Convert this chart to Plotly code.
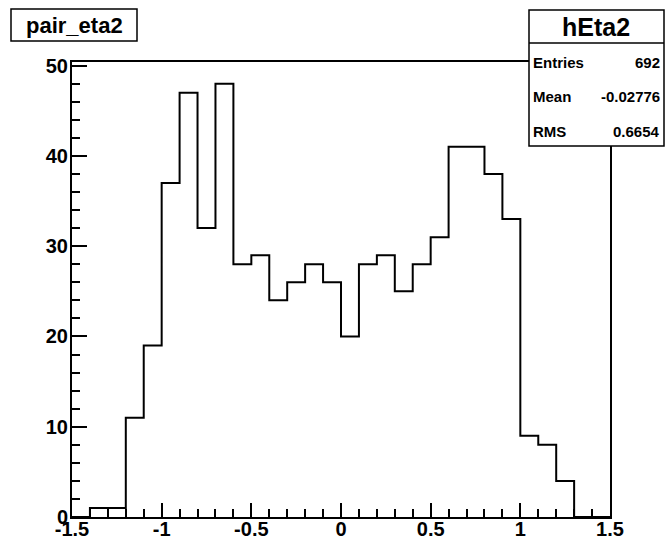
import plotly.graph_objects as go

# ---- data ----
bin_edges = [round(-1.5 + 0.1 * i, 1) for i in range(31)]
counts = [0, 1, 1, 11, 19, 37, 47, 32, 48, 28,
          29, 24, 26, 28, 26, 20, 28, 29, 25, 28,
          31, 41, 41, 38, 33, 9, 8, 4, 0, 0]
hist_name = "hEta2"
hist_title = "pair_eta2"
stat_labels = ["Entries", "Mean", "RMS"]
stat_values = ["692", "-0.02776", "0.6654"]
y_max = 50.4

# ---- layout geometry (pixels) ----
W, H = 672, 544
L, R, T, B = 72, 610, 62, 517

def px(x):
    return (x - L) / (R - L)

def py(y):
    return (B - y) / (B - T)

FONT = "Liberation Sans, Arial, Helvetica, sans-serif"

xs = bin_edges[:-1] + [bin_edges[-1]]
ys = counts + [counts[-1]]

fig = go.Figure()
fig.add_trace(go.Scatter(x=xs, y=ys, mode="lines", line=dict(shape="hv", color="black", width=2),
                         hoverinfo="skip", showlegend=False))

axis_common = dict(showgrid=False, zeroline=False, showline=True, linecolor="black", linewidth=2,
                   mirror=True, ticks="inside", tickcolor="black", tickwidth=2, automargin=False,
                   tickfont=dict(family=FONT, size=20, color="black", weight="bold"))

fig.update_xaxes(range=[-1.5, 1.5], tickvals=[-1.5, -1, -0.5, 0, 0.5, 1, 1.5],
                 ticktext=["-1.5", "-1", "-0.5", "0", "0.5", "1", "1.5"], ticklen=14,
                 ticklabelstandoff=-7,
                 minor=dict(ticks="inside", ticklen=8, dtick=0.1, tick0=-1.5, tickcolor="black", tickwidth=2),
                 **axis_common)
fig.update_yaxes(range=[0, y_max], tickvals=[0, 10, 20, 30, 40, 50], ticklen=15,
                 ticklabelstandoff=-2,
                 minor=dict(ticks="inside", ticklen=8, dtick=2, tick0=0, tickcolor="black", tickwidth=2),
                 **axis_common)

shapes = []
annotations = []

# title box
shapes.append(dict(type="rect", xref="paper", yref="paper", x0=px(11), x1=px(137), y0=py(41), y1=py(9),
                   line=dict(color="black", width=1.5), fillcolor="white", layer="above"))
annotations.append(dict(xref="paper", yref="paper", x=px(74), y=py(25), text=hist_title, showarrow=False,
                        font=dict(family=FONT, size=22, color="black", weight="bold"),
                        xanchor="center", yanchor="middle"))

# stats box
shapes.append(dict(type="rect", xref="paper", yref="paper", x0=px(529), x1=px(664), y0=py(146), y1=py(10),
                   line=dict(color="black", width=1.5), fillcolor="white", layer="above"))
shapes.append(dict(type="line", xref="paper", yref="paper", x0=px(529), x1=px(664), y0=py(43), y1=py(43),
                   line=dict(color="black", width=1.5), layer="above"))
annotations.append(dict(xref="paper", yref="paper", x=px(596), y=py(27), text=hist_name, showarrow=False,
                        font=dict(family=FONT, size=25, color="black", weight="bold"),
                        xanchor="center", yanchor="middle"))
row_y = [62, 97, 131]
for lab, val, yy in zip(stat_labels, stat_values, row_y):
    annotations.append(dict(xref="paper", yref="paper", x=px(531), y=py(yy), text=lab, showarrow=False,
                            font=dict(family=FONT, size=15, color="black", weight="bold"),
                            xanchor="left", yanchor="middle"))
    annotations.append(dict(xref="paper", yref="paper", x=px(662), y=py(yy), text=val, showarrow=False,
                            font=dict(family=FONT, size=15, color="black", weight="bold"),
                            xanchor="right", yanchor="middle"))

fig.update_layout(width=W, height=H, margin=dict(l=L, r=W - R, t=T, b=H - B, autoexpand=False),
                  paper_bgcolor="white", plot_bgcolor="white",
                  shapes=shapes, annotations=annotations, showlegend=False)

fig.write_html("out.html", config={"displayModeBar": False, "staticPlot": True},
               post_script="document.body.style.margin='0px';document.body.style.overflow='hidden';")
